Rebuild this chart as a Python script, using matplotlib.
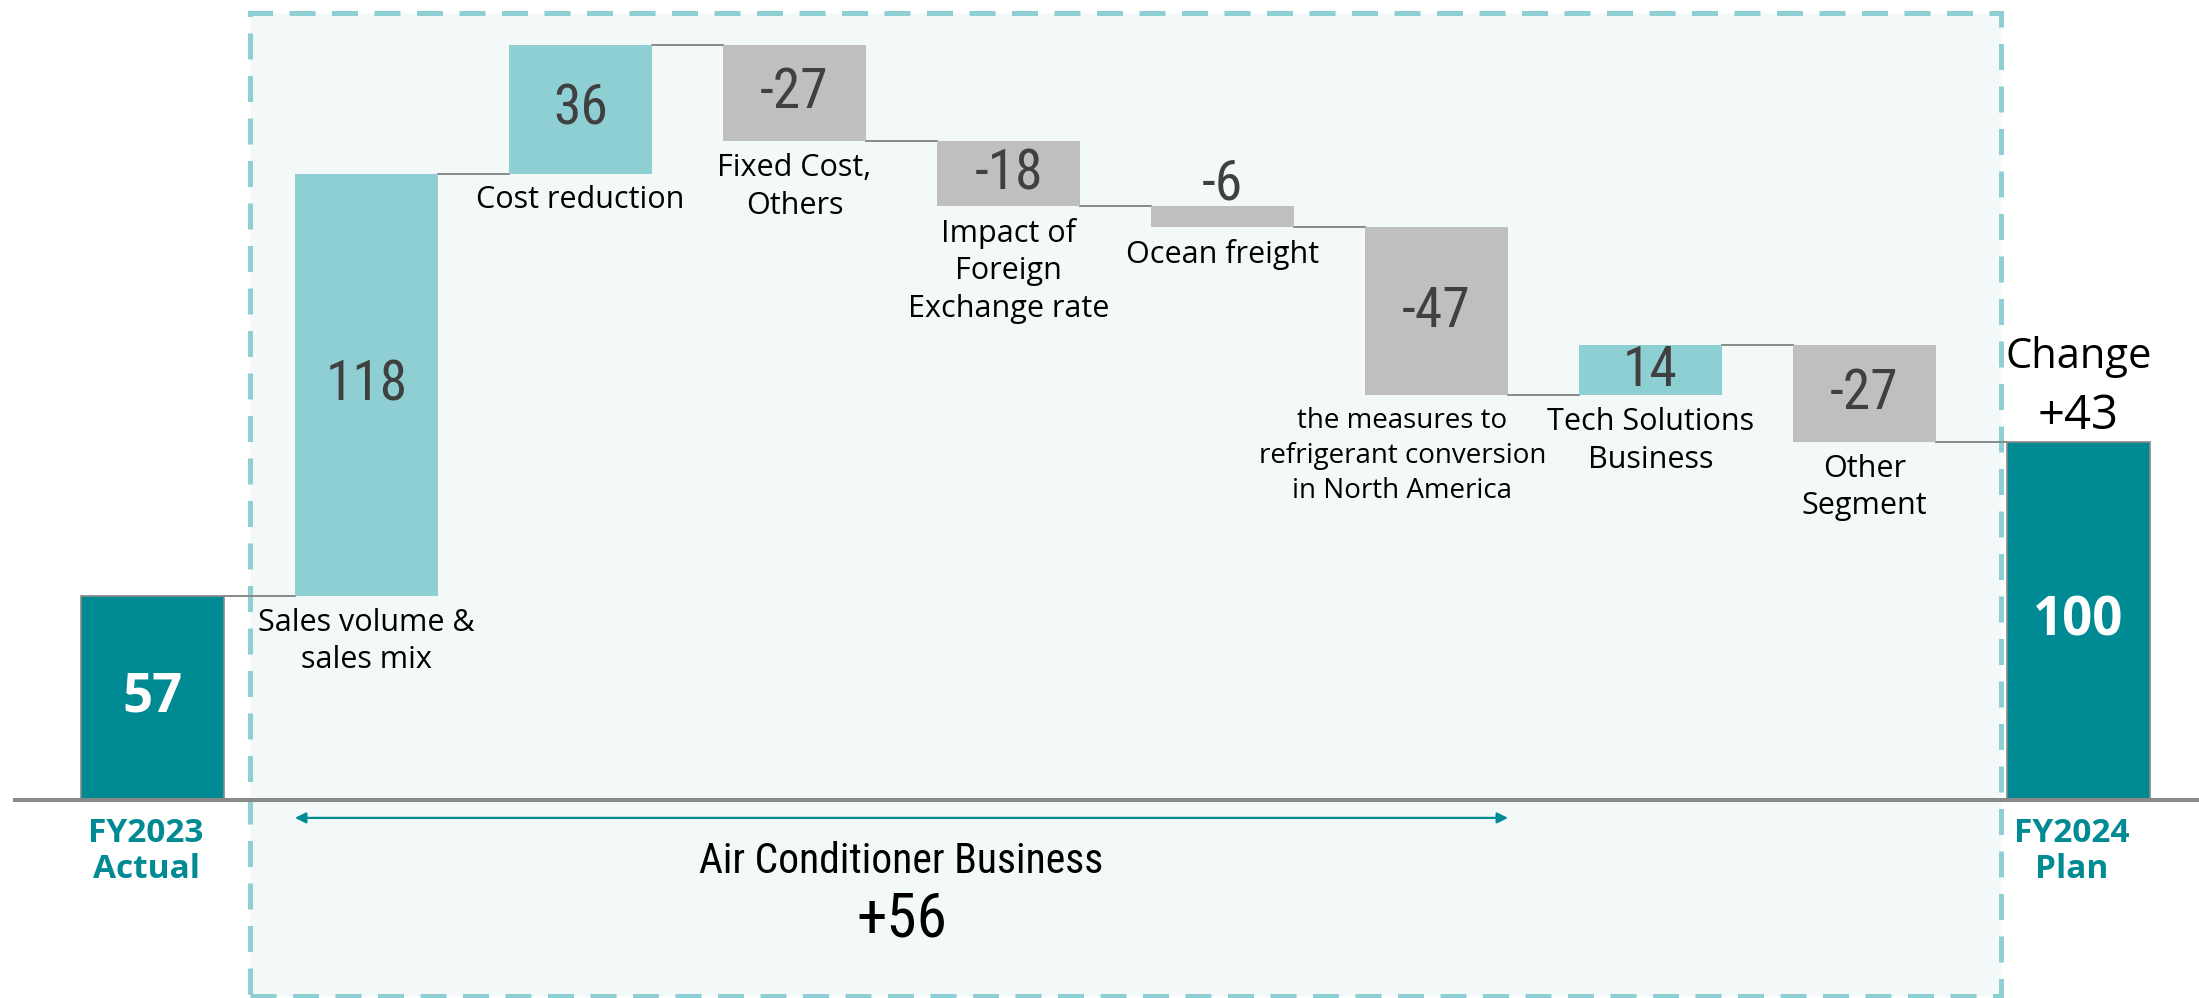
import matplotlib.pyplot as plt
from matplotlib.patches import Rectangle
import numpy as np

# Data
categories = ['FY2023\nActual', 'Sales volume &\nsales mix', 'Cost reduction',
              'Fixed Cost,\nOthers', 'Impact of\nForeign\nExchange rate',
              'Ocean freight', 'the measures to\nrefrigerant conversion\nin North America',
              'Tech Solutions\nBusiness', 'Other\nSegment', 'FY2024\nPlan']
start_value = 57
changes = [118, 36, -27, -18, -6, -47, 14, -27]
end_value = 100
group_label = 'Air Conditioner Business'
group_size = 6  # first six drivers belong to air conditioner business

# Colours
TEAL = '#008A93'
LIGHT_TEAL = '#8ECFD4'
GREY = '#BFBFBF'
LINE_GREY = '#898989'
BOX_FILL = '#F3F9F9'

FONT = ['Open Sans', 'DejaVu Sans']
COND = ['Roboto Condensed', 'Open Sans', 'DejaVu Sans']
plt.rcParams['font.family'] = FONT

# small horizontal nudges for category labels (in bar units)
label_dx = {6: -0.16}

W, H = 2199, 998
fig = plt.figure(figsize=(W / 100, H / 100), dpi=100)
ax = fig.add_axes([0, 0, 1, 1])
ax.axis('off')

# pixel mapping: bar centers 152.5 + 214*i, value 0 at y=800 px, 3.58 px per unit
x0_px, step_px, base_px, ppu = 152.5, 214.0, 800.0, 3.58
ax.set_xlim(-x0_px / step_px, (W - x0_px) / step_px)
ax.set_ylim(-(H - base_px) / ppu, base_px / ppu)
bw = 143 / step_px

# dashed box behind the air conditioner part
box = Rectangle((250 / W, 2 / H), (2001 - 250) / W, (985 - 2) / H,
                transform=fig.transFigure, facecolor=BOX_FILL, edgecolor=LIGHT_TEAL,
                linewidth=3.6, linestyle=(0, (5.2, 3.3)), zorder=0, clip_on=False)
ax.add_patch(box)

n = len(categories)
x = np.arange(n)

# cumulative levels
levels = [start_value]
for c in changes:
    levels.append(levels[-1] + c)

# total bars
ax.bar(x[0], start_value, bw, color=TEAL, edgecolor=LINE_GREY, linewidth=1.2, zorder=2)
ax.bar(x[-1], end_value, bw, color=TEAL, edgecolor=LINE_GREY, linewidth=1.2, zorder=2)
ax.text(x[0], start_value / 2, f'{start_value}', ha='center', va='center',
        color='white', fontsize=38, fontweight='bold', zorder=3)
ax.text(x[-1], end_value / 2, f'{end_value}', ha='center', va='center',
        color='white', fontsize=38, fontweight='bold', zorder=3)

# delta bars
for i, c in enumerate(changes, start=1):
    lo = min(levels[i - 1], levels[i])
    ax.bar(x[i], abs(c), bw, bottom=lo, color=LIGHT_TEAL if c > 0 else GREY,
           linewidth=0, zorder=2)
    if abs(c) < 10:
        # small bar: value sits on top
        ax.text(x[i], lo + abs(c) - 1.2, f'{c}', ha='center', va='bottom',
                color='#404040', fontsize=40, family=COND, zorder=3)
    else:
        ax.text(x[i], lo + abs(c) / 2, f'{c}', ha='center', va='center',
                color='#404040', fontsize=40, family=COND, zorder=3)
    lbl_size = 20 if len(max(categories[i].split('\n'), key=len)) > 16 else 22
    ax.text(x[i] + label_dx.get(i, 0), lo - 3.3, categories[i], ha='center', va='top',
            color='black', fontsize=lbl_size, linespacing=1.33, zorder=3)

# connectors
for i in range(n - 1):
    ax.plot([x[i] + bw / 2, x[i + 1] - bw / 2], [levels[i], levels[i]],
            color=LINE_GREY, linewidth=1.4, zorder=1)

# baseline
ax.plot([13 / step_px - x0_px / step_px, (W - x0_px) / step_px], [0, 0],
        color=LINE_GREY, linewidth=2.9, zorder=4, solid_capstyle='butt')

# total labels
for i in (0, n - 1):
    ax.text(x[i] - 0.03, -4.8, categories[i], ha='center', va='top', color=TEAL,
            fontsize=24, fontweight='bold', linespacing=1.1)

ax.text(x[-1], end_value + 18, 'Change', ha='center', va='bottom', fontsize=30)
ax.text(x[-1], end_value + 0.5, f'{end_value - start_value:+d}', ha='center',
        va='bottom', fontsize=34)

# air conditioner arrow and subtotal
ac_total = sum(changes[:group_size])
ax.annotate('', xy=(x[1] - bw / 2, -5), xytext=(x[group_size] + bw / 2, -5),
            arrowprops=dict(arrowstyle='<|-|>', color=TEAL, lw=1.6, mutation_scale=16,
                            shrinkA=0, shrinkB=0))
mid = (x[1] - bw / 2 + x[group_size] + bw / 2) / 2
ax.text(mid, -17.2, group_label, ha='center', va='center', fontsize=30, family=COND)
ax.text(mid, -33.4, f'{ac_total:+d}', ha='center', va='center', fontsize=44, family=COND)

fig.savefig('out.png', dpi=100, facecolor='white')
